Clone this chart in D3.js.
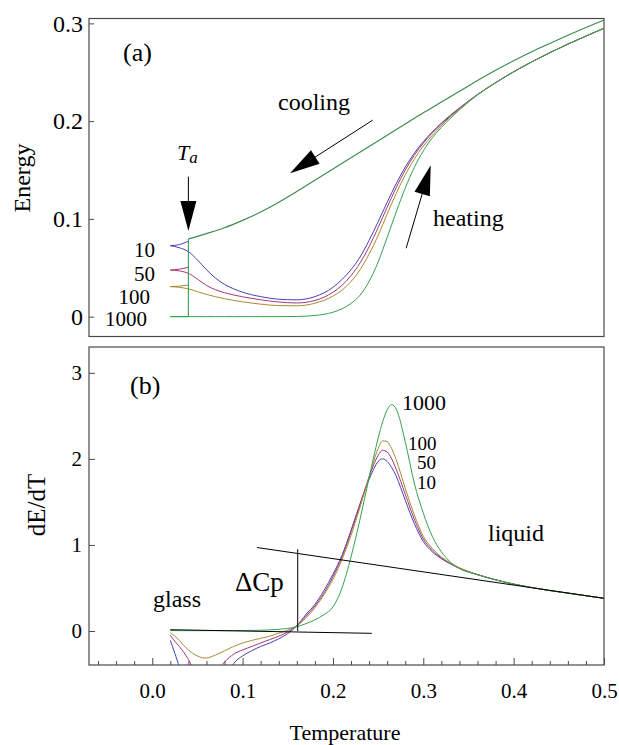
<!DOCTYPE html>
<html>
<head>
<meta charset="utf-8">
<script src="https://cdn.jsdelivr.net/npm/d3@7"></script>
<style>
  body { margin: 0; background: #fff; }
  svg { display: block; }
  text { font-family: "Liberation Serif", "Times New Roman", serif; fill: #000; }
</style>
</head>
<body>
<svg id="chart" width="619" height="745"></svg>
<script>
// ---- Panel (a): energy during cooling, aging at Ta and reheating ----
const rates = ["10", "50", "100", "1000"];
const rateColors = ["#4343b3", "#a83478", "#a48c32", "#36a052"];
const coolColor = "#3c8c4e";

const tempCool = [0.04, 0.06, 0.08, 0.10, 0.12, 0.14, 0.16, 0.18, 0.20, 0.22, 0.24, 0.26,
                  0.28, 0.30, 0.32, 0.34, 0.36, 0.38, 0.40, 0.42, 0.44, 0.46, 0.48, 0.50];
const energyCool = [0.0795, 0.085, 0.091, 0.0985, 0.107, 0.117, 0.128, 0.1395, 0.151, 0.1625, 0.174, 0.1855,
                    0.197, 0.2085, 0.2195, 0.2305, 0.2415, 0.2520, 0.2618, 0.2710, 0.2795, 0.2878, 0.2958, 0.3035];

const agingTemp = 0.04;
const agingEnergy = [0.0795, 0];

const tempQuench = [0.02, 0.03, 0.04];
const quench10 = [0.0726, 0.0737, 0.0772];
const quench50 = [0.0477, 0.0486, 0.0505];
const quench100 = [0.0307, 0.0312, 0.0324];
const quench1000 = [0, 0, 0];

const tempHeat = [0.02, 0.03, 0.04, 0.05, 0.06, 0.07, 0.08, 0.09, 0.10, 0.12, 0.14, 0.16, 0.18,
                  0.20, 0.21, 0.22, 0.23, 0.24, 0.25, 0.26, 0.27, 0.28, 0.29, 0.30, 0.31, 0.32,
                  0.34, 0.36, 0.38, 0.40, 0.42, 0.44, 0.46, 0.48, 0.50];
const heat10 = [0.0726, 0.0705, 0.0665, 0.058, 0.048, 0.0395, 0.033, 0.0285, 0.025, 0.0205, 0.0178, 0.0172, 0.0205,
                0.030, 0.038, 0.048, 0.061, 0.078, 0.097, 0.117, 0.136, 0.153, 0.167, 0.179, 0.189, 0.198,
                0.2135, 0.2272, 0.2394, 0.2505, 0.2606, 0.2700, 0.2788, 0.2870, 0.2950];
const heat50 = [0.0477, 0.0468, 0.0443, 0.0385, 0.032, 0.0275, 0.0245, 0.0222, 0.0203, 0.0173, 0.0150, 0.0140, 0.0165,
                0.025, 0.032, 0.042, 0.055, 0.0715, 0.091, 0.112, 0.132, 0.150, 0.165, 0.1775, 0.188, 0.197,
                0.2130, 0.2272, 0.2394, 0.2505, 0.2606, 0.2700, 0.2788, 0.2870, 0.2950];
const heat100 = [0.0307, 0.0300, 0.0284, 0.0256, 0.0228, 0.0204, 0.0184, 0.0167, 0.0152, 0.0128, 0.0113, 0.0111, 0.0137,
                 0.021, 0.027, 0.036, 0.048, 0.064, 0.083, 0.105, 0.126, 0.145, 0.161, 0.1745, 0.1855, 0.1955,
                 0.2125, 0.2272, 0.2394, 0.2505, 0.2606, 0.2700, 0.2788, 0.2870, 0.2950];
const heat1000 = [0, 0, 0, 0, 0, 0, 0, 0, 0, 0, 0, 0.0002, 0.0012,
                  0.0045, 0.008, 0.0135, 0.022, 0.036, 0.056, 0.081, 0.107, 0.1315, 0.1525, 0.1695, 0.183, 0.1935,
                  0.2115, 0.2268, 0.2392, 0.2505, 0.2606, 0.2700, 0.2788, 0.2870, 0.2950];

// ---- Panel (b): dE/dT on reheating ----
const tempRate = [0.02, 0.025, 0.03, 0.035, 0.04, 0.045, 0.05, 0.055, 0.06, 0.065, 0.07, 0.08, 0.09,
                  0.10, 0.11, 0.12, 0.13, 0.14, 0.15, 0.16, 0.17, 0.18, 0.19, 0.20, 0.21, 0.22, 0.23,
                  0.24, 0.245, 0.25, 0.255, 0.26, 0.265, 0.27, 0.28, 0.29, 0.30, 0.31, 0.32, 0.33,
                  0.34, 0.36, 0.38, 0.40, 0.42, 0.44, 0.46, 0.48, 0.50];
const rate10 = [-0.11, -0.26, -0.42, -0.62, -0.80, -0.92, -1.0, -1.02, -1.0, -0.94, -0.85, -0.60, -0.38,
                -0.29, -0.23, -0.18, -0.14, -0.09, -0.03, 0.06, 0.19, 0.31, 0.47, 0.66, 0.88, 1.17, 1.48,
                1.76, 1.88, 1.97, 2.0, 1.97, 1.90, 1.80, 1.52, 1.25, 1.04, 0.92, 0.84, 0.78,
                0.73, 0.655, 0.595, 0.545, 0.505, 0.47, 0.44, 0.41, 0.38];
const rate50 = [-0.05, -0.12, -0.18, -0.25, -0.33, -0.43, -0.53, -0.60, -0.62, -0.58, -0.50, -0.36, -0.27,
                -0.22, -0.18, -0.14, -0.10, -0.06, -0.01, 0.06, 0.17, 0.29, 0.44, 0.63, 0.86, 1.15, 1.47,
                1.79, 1.93, 2.04, 2.10, 2.08, 2.00, 1.88, 1.59, 1.30, 1.07, 0.94, 0.85, 0.785,
                0.73, 0.655, 0.595, 0.545, 0.505, 0.47, 0.44, 0.41, 0.38];
const rate100 = [-0.02, -0.06, -0.11, -0.17, -0.22, -0.26, -0.29, -0.31, -0.315, -0.30, -0.28, -0.23, -0.18,
                 -0.14, -0.11, -0.085, -0.06, -0.025, 0.01, 0.06, 0.15, 0.27, 0.42, 0.60, 0.83, 1.11, 1.44,
                 1.79, 1.97, 2.12, 2.21, 2.20, 2.12, 1.99, 1.66, 1.35, 1.10, 0.96, 0.86, 0.79,
                 0.735, 0.655, 0.595, 0.545, 0.505, 0.47, 0.44, 0.41, 0.38];
const rate1000 = [0.005, 0.005, 0.004, 0.004, 0.004, 0.004, 0.004, 0.004, 0.004, 0.004, 0.004, 0.004, 0.005,
                  0.006, 0.007, 0.009, 0.013, 0.02, 0.03, 0.05, 0.085, 0.13, 0.19, 0.28, 0.50, 0.86, 1.30,
                  1.78, 2.02, 2.24, 2.43, 2.57, 2.63, 2.58, 2.20, 1.72, 1.37, 1.10, 0.92, 0.80,
                  0.725, 0.655, 0.595, 0.545, 0.505, 0.47, 0.44, 0.41, 0.38];

// reference lines: glass and liquid heat capacities, and the jump between them
const glassLine = [[0.02, 0.015], [0.243, -0.027]];
const liquidLine = [[0.116, 0.97], [0.5, 0.38]];
const jumpTemp = 0.161;
const jumpRange = [0, 0.95];

const energyTicks = [0, 0.1, 0.2, 0.3];
const rateTicks = [0, 1, 2, 3];
const tempTicks = [0.0, 0.1, 0.2, 0.3, 0.4, 0.5];
const tempMinorTicks = d3.range(-6, 50, 2).map(d => d / 100).filter(d => Math.round(d * 100) % 10 !== 0);

// ---- layout ----
const svg = d3.select("#chart");
const L = 89, R = 604;
const topA = 18.5, botA = 336.5, topB = 347, botB = 665;
const frameColor = "#4a4a4a";

const x = d3.scaleLinear().domain([-0.07, 0.5]).range([L, R]);
const yA = d3.scaleLinear().domain([-0.0203, 0.305]).range([botA, topA]);
const yB = d3.scaleLinear().domain([-0.395, 3.3]).range([botB, topB]);

svg.append("defs").append("clipPath").attr("id", "clipB")
  .append("rect").attr("x", L).attr("y", topB).attr("width", R - L).attr("height", botB - topB);

function frame(y0, y1) {
  svg.append("rect").attr("x", L).attr("y", y0).attr("width", R - L).attr("height", y1 - y0)
    .attr("fill", "none").attr("stroke", frameColor).attr("stroke-width", 1.2);
}

function styleAxis(g, size) {
  g.select(".domain").remove();
  g.selectAll(".tick line").attr("stroke", frameColor).attr("stroke-width", 1);
  g.selectAll(".tick text").attr("font-family", "Liberation Serif, serif").attr("font-size", size).attr("fill", "#000");
}

const lineA = yS => d3.line().x(d => x(d[0])).y(d => yS(d[1])).curve(d3.curveMonotoneX);
const zip = (t, v) => t.map((d, i) => [d, v[i]]);

// ---- panel (a) ----
frame(topA, botA);
svg.append("g").attr("transform", `translate(${L},0)`)
  .call(d3.axisLeft(yA).tickValues(energyTicks).tickSizeInner(-5).tickSizeOuter(0).tickPadding(6)
    .tickFormat(d => d === 0 ? "0" : d.toFixed(1)))
  .call(g => styleAxis(g, 24));

const gA = svg.append("g");
const quench = [quench10, quench50, quench100, quench1000];
const heat = [heat10, heat50, heat100, heat1000];
rates.forEach((r, i) => {
  gA.append("path").datum(zip(tempQuench, quench[i])).attr("d", lineA(yA))
    .attr("fill", "none").attr("stroke", rateColors[i]).attr("stroke-width", 1);
  gA.append("path").datum(zip(tempHeat, heat[i])).attr("d", lineA(yA))
    .attr("fill", "none").attr("stroke", rateColors[i]).attr("stroke-width", 1);
});
gA.append("line").attr("x1", x(agingTemp)).attr("x2", x(agingTemp))
  .attr("y1", yA(agingEnergy[0])).attr("y2", yA(agingEnergy[1]))
  .attr("stroke", rateColors[3]).attr("stroke-width", 1.1);
gA.append("path").datum(zip(tempCool, energyCool)).attr("d", lineA(yA))
  .attr("fill", "none").attr("stroke", coolColor).attr("stroke-width", 1.2);

// arrows drawn in pixel space from a start point to a tip
function arrow(x0, y0, x1, y1) {
  const dx = x1 - x0, dy = y1 - y0, len = Math.hypot(dx, dy);
  const ux = dx / len, uy = dy / len, hl = 30, hw = 8;
  const bx = x1 - ux * hl, by = y1 - uy * hl;
  svg.append("line").attr("x1", x0).attr("y1", y0).attr("x2", bx + ux * 2).attr("y2", by + uy * 2)
    .attr("stroke", "#000").attr("stroke-width", 1);
  svg.append("path")
    .attr("d", `M${x1},${y1}L${bx - uy * hw},${by + ux * hw}L${bx + uy * hw},${by - ux * hw}Z`)
    .attr("fill", "#000");
}
arrow(x(0.04), yA(0.1432), x(0.04), yA(0.0876));
arrow(x(0.244), yA(0.201), x(0.1525), yA(0.1467));
arrow(x(0.281), yA(0.070), x(0.3082), yA(0.155));

function label(txt, px, py, size, anchor, italic) {
  return svg.append("text").attr("x", px).attr("y", py).attr("font-size", size)
    .attr("text-anchor", anchor || "start").attr("font-style", italic ? "italic" : null).text(txt);
}
label("(a)", 123, 61, 26);
label("cooling", 278, 110, 24);
label("heating", 433, 226, 24);
const ta = label("T", 177, 160, 22, "start", true);
ta.append("tspan").attr("font-size", 17).attr("dy", 3).text("a");
label("10", 155, 257, 21, "end");
label("50", 155, 280.5, 21, "end");
label("100", 150, 303.5, 21, "end");
label("1000", 147, 326, 21, "end");

svg.append("text").attr("transform", "translate(30,178) rotate(-90)").attr("text-anchor", "middle")
  .attr("font-size", 24).text("Energy");

// ---- panel (b) ----
frame(topB, botB);
svg.append("g").attr("transform", `translate(${L},0)`)
  .call(d3.axisLeft(yB).tickValues(rateTicks).tickSizeInner(-6).tickSizeOuter(0).tickPadding(7)
    .tickFormat(d3.format("d")))
  .call(g => styleAxis(g, 21));
svg.append("g").attr("transform", `translate(0,${botB})`)
  .call(d3.axisBottom(x).tickValues(tempMinorTicks).tickSizeInner(-4).tickSizeOuter(0).tickFormat(""))
  .call(g => styleAxis(g, 21));
svg.append("g").attr("transform", `translate(0,${botB})`)
  .call(d3.axisBottom(x).tickValues(tempTicks).tickSizeInner(-7).tickSizeOuter(0).tickPadding(18)
    .tickFormat(d3.format(".1f")))
  .call(g => styleAxis(g, 21));

const gB = svg.append("g").attr("clip-path", "url(#clipB)");
const rateSeries = [rate10, rate50, rate100, rate1000];
rates.forEach((r, i) => {
  gB.append("path").datum(zip(tempRate, rateSeries[i])).attr("d", lineA(yB))
    .attr("fill", "none").attr("stroke", rateColors[i]).attr("stroke-width", 1);
});
const straight = d3.line().x(d => x(d[0])).y(d => yB(d[1]));
gB.append("path").datum(glassLine).attr("d", straight).attr("stroke", "#000").attr("stroke-width", 1).attr("fill", "none");
gB.append("path").datum(liquidLine).attr("d", straight).attr("stroke", "#000").attr("stroke-width", 1).attr("fill", "none");
gB.append("line").attr("x1", x(jumpTemp)).attr("x2", x(jumpTemp))
  .attr("y1", yB(jumpRange[0])).attr("y2", yB(jumpRange[1])).attr("stroke", "#000").attr("stroke-width", 1);

label("(b)", 130, 394, 26);
label("1000", 402, 410, 22);
label("100", 408, 449.5, 19);
label("50", 417, 469, 19);
label("10", 417, 488.5, 19);
label("liquid", 488, 541, 24);
label("glass", 153, 607, 24);
label("\u0394Cp", 235, 591, 27);

svg.append("text").attr("transform", "translate(45,505) rotate(-90)").attr("text-anchor", "middle")
  .attr("font-size", 25).text("dE/dT");
label("Temperature", 345, 740, 22, "middle");
</script>
</body>
</html>
